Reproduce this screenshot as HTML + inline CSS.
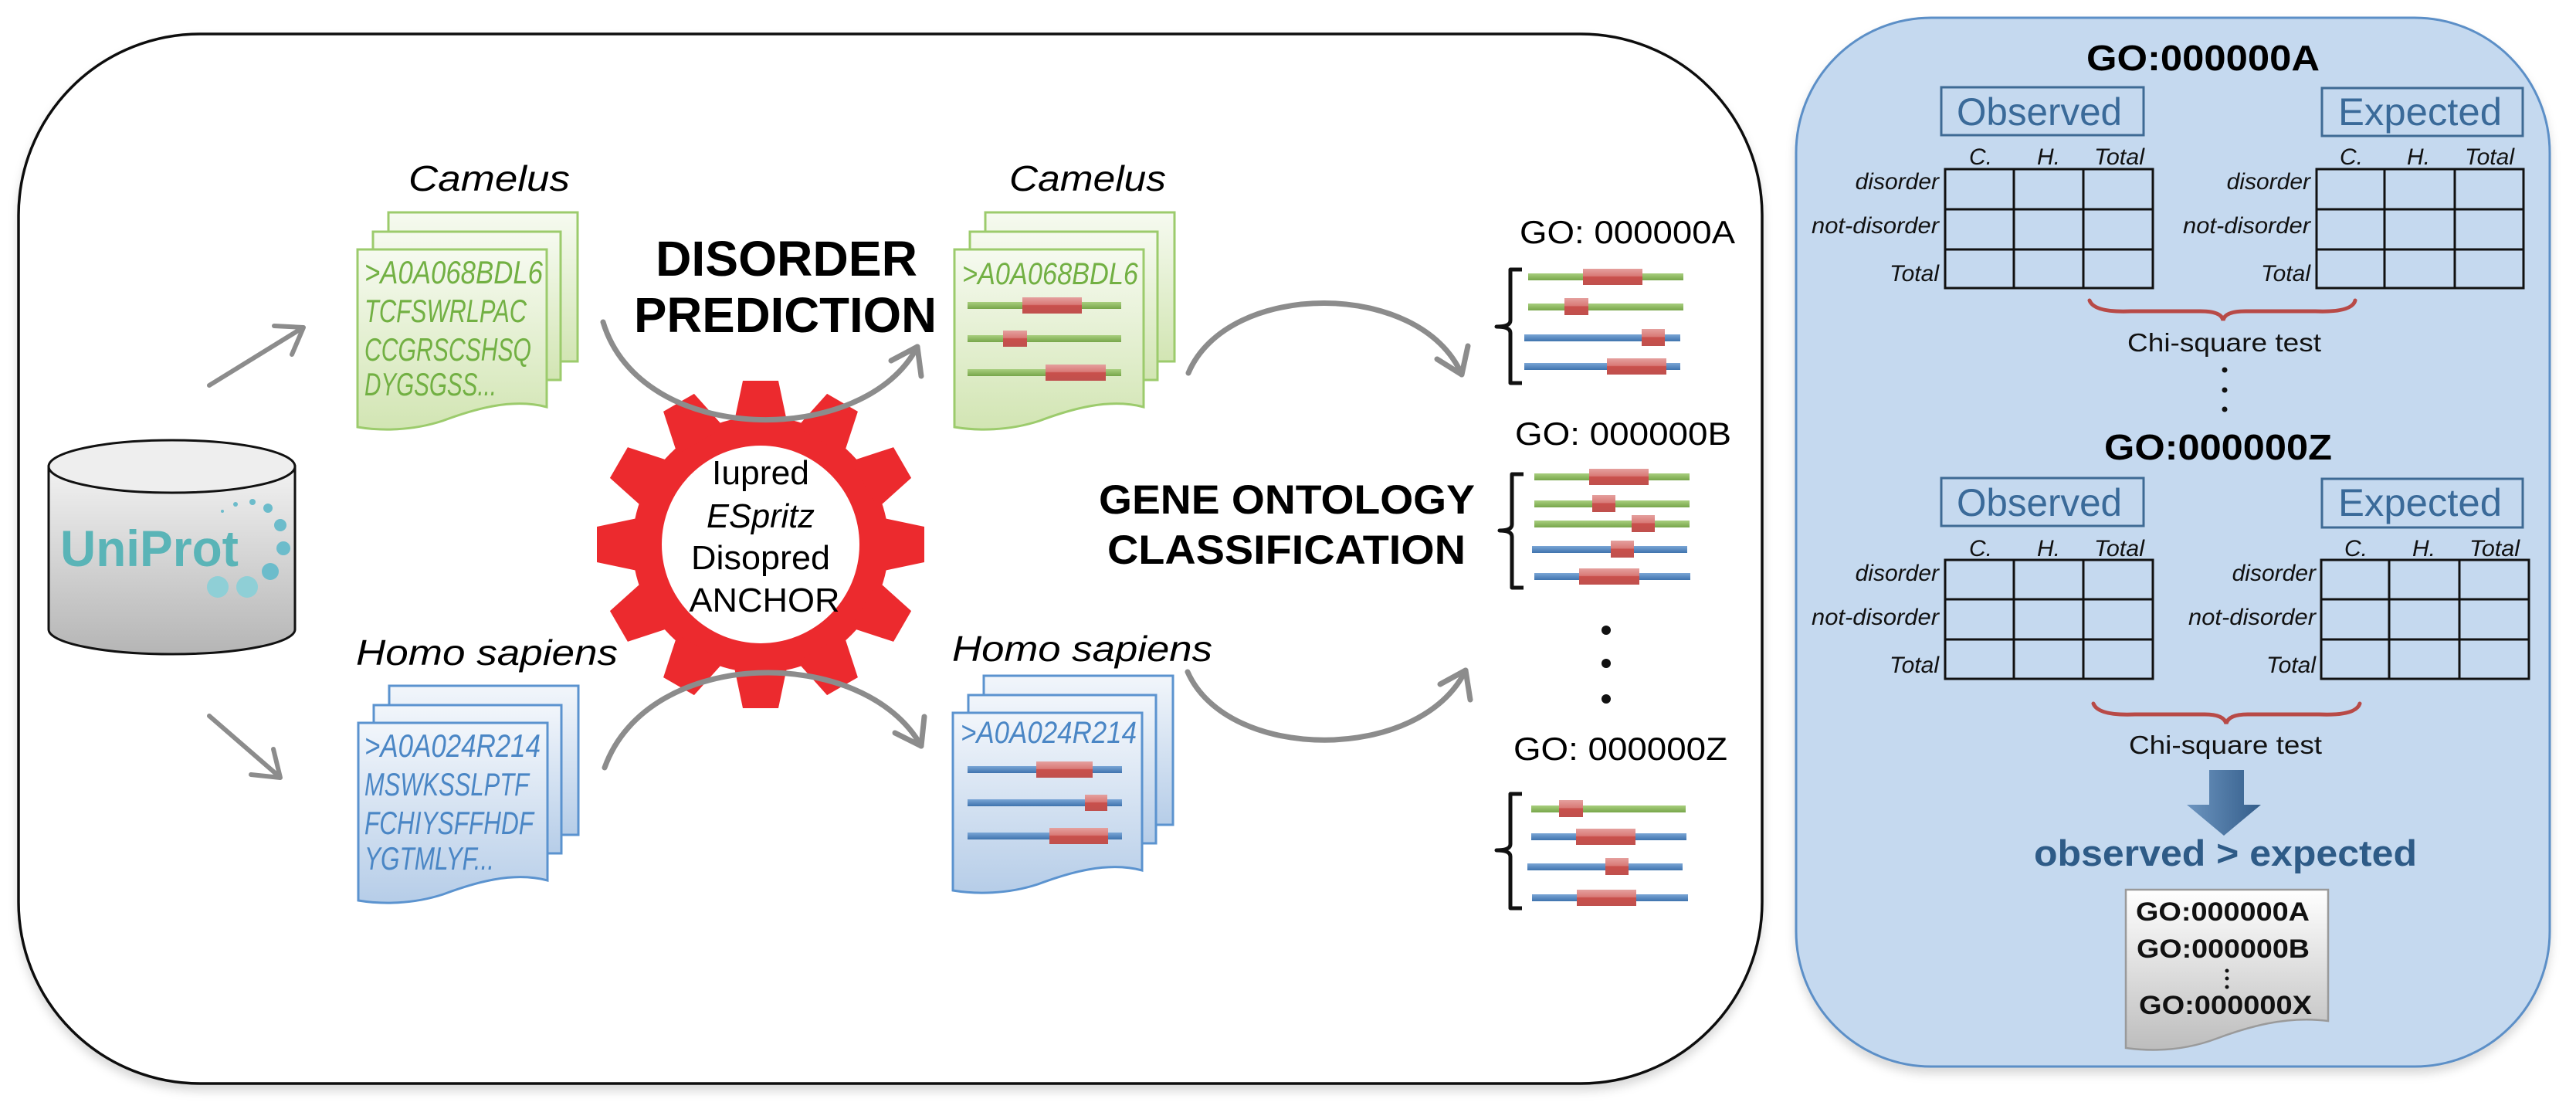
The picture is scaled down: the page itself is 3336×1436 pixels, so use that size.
<!DOCTYPE html>
<html><head><meta charset="utf-8"><style>
html,body{margin:0;padding:0;background:#fff;}
svg{display:block;}
text{font-family:"Liberation Sans",sans-serif;}
</style></head><body>
<svg width="3336" height="1436" viewBox="0 0 3336 1436" xmlns="http://www.w3.org/2000/svg">
<defs>
<linearGradient id="gG" x1="0" y1="0" x2="0" y2="1"><stop offset="0" stop-color="#f6faf0"/><stop offset="1" stop-color="#d2e5b3"/></linearGradient>
<linearGradient id="gB" x1="0" y1="0" x2="0" y2="1"><stop offset="0" stop-color="#f2f6fb"/><stop offset="1" stop-color="#b6cde8"/></linearGradient>
<linearGradient id="gCyl" x1="0" y1="0" x2="0" y2="1"><stop offset="0" stop-color="#f2f2f2"/><stop offset="1" stop-color="#b5b5b5"/></linearGradient>
<linearGradient id="gRed" x1="0" y1="0" x2="0" y2="1"><stop offset="0" stop-color="#e5a09e"/><stop offset="0.45" stop-color="#d97a77"/><stop offset="0.5" stop-color="#c9504c"/><stop offset="1" stop-color="#c0504d"/></linearGradient>
<linearGradient id="gLG" x1="0" y1="0" x2="0" y2="1"><stop offset="0" stop-color="#a9cf7f"/><stop offset="1" stop-color="#77a64a"/></linearGradient>
<linearGradient id="gLB" x1="0" y1="0" x2="0" y2="1"><stop offset="0" stop-color="#7aa6d6"/><stop offset="1" stop-color="#3f73ae"/></linearGradient>
<linearGradient id="gDoc" x1="0" y1="0" x2="0" y2="1"><stop offset="0" stop-color="#ffffff"/><stop offset="1" stop-color="#bdbdbd"/></linearGradient>
<linearGradient id="gArr" x1="0" y1="0" x2="1" y2="0"><stop offset="0" stop-color="#6d95c0"/><stop offset="1" stop-color="#335d8a"/></linearGradient>
<g id="stackG" stroke="#9ccb6c" stroke-width="3" fill="url(#gG)">
<rect x="40" y="0" width="245" height="193"/>
<rect x="20" y="25" width="243" height="192"/>
<path d="M0,48 H245 V252 C200,240 150,255 110,270 C70,283 30,283 0,278 Z"/>
</g>
<g id="stackB" stroke="#5b93cf" stroke-width="3" fill="url(#gB)">
<rect x="40" y="0" width="245" height="193"/>
<rect x="20" y="25" width="243" height="192"/>
<path d="M0,48 H245 V252 C200,240 150,255 110,270 C70,283 30,283 0,278 Z"/>
</g>
<filter id="sh" x="-5%" y="-5%" width="110%" height="110%"><feDropShadow dx="0" dy="8" stdDeviation="6" flood-color="#000" flood-opacity="0.15"/></filter>
</defs>

<!-- panels -->
<rect x="24" y="44" width="2258" height="1359" rx="235" ry="235" fill="#fff" stroke="#111" stroke-width="3.5" filter="url(#sh)"/>
<rect x="2326" y="23" width="976" height="1358" rx="175" ry="175" fill="#c5d9ef" stroke="#5b8fc7" stroke-width="3" filter="url(#sh)"/>

<!-- cylinder -->
<path d="M63,604 V815 A159.5,32 0 0 0 382,815 V604 Z" fill="url(#gCyl)" stroke="#111" stroke-width="3"/>
<ellipse cx="222.5" cy="604" rx="159.5" ry="34" fill="#eeeeee" stroke="#111" stroke-width="3"/>
<text x="78" y="733" font-size="66" font-weight="bold" fill="#5ab4b7" textLength="231" lengthAdjust="spacingAndGlyphs">UniProt</text>
<g fill="#6cbccb">
<circle cx="282" cy="760" r="14" fill="#8fcfd6"/><circle cx="320" cy="760" r="14" fill="#8fcfd6"/>
<circle cx="350" cy="740" r="11"/><circle cx="367" cy="710" r="9"/><circle cx="363" cy="680" r="8"/>
<circle cx="347" cy="658" r="6"/><circle cx="327" cy="650" r="4"/><circle cx="305" cy="653" r="3"/><circle cx="288" cy="662" r="2"/>
</g>

<!-- arrows from db -->
<g stroke="#8c8c8c" stroke-width="6" fill="none" stroke-linecap="round" stroke-linejoin="round">
<line x1="271" y1="499" x2="391" y2="425"/><polyline points="355,422 393,424 378,459"/>
<line x1="271" y1="927" x2="361" y2="1005"/><polyline points="354,970 363,1007 325,1003"/>
</g>

<!-- stacks -->
<text x="529" y="247" font-size="46" font-style="italic" textLength="209" lengthAdjust="spacingAndGlyphs">Camelus</text>
<use href="#stackG" x="463" y="275"/>
<g fill="#72b043" font-size="42" font-style="italic">
<text x="472" y="367" textLength="231" lengthAdjust="spacingAndGlyphs">&gt;A0A068BDL6</text>
<text x="472" y="417" textLength="210" lengthAdjust="spacingAndGlyphs">TCFSWRLPAC</text>
<text x="472" y="467" textLength="216" lengthAdjust="spacingAndGlyphs">CCGRSCSHSQ</text>
<text x="472" y="512" textLength="171" lengthAdjust="spacingAndGlyphs">DYGSGSS...</text>
</g>
<text x="461" y="861" font-size="46" font-style="italic" textLength="339" lengthAdjust="spacingAndGlyphs">Homo sapiens</text>
<use href="#stackB" x="464" y="888"/>
<g fill="#4a86c5" font-size="42" font-style="italic">
<text x="472" y="980" textLength="228" lengthAdjust="spacingAndGlyphs">&gt;A0A024R214</text>
<text x="472" y="1030" textLength="213" lengthAdjust="spacingAndGlyphs">MSWKSSLPTF</text>
<text x="472" y="1080" textLength="219" lengthAdjust="spacingAndGlyphs">FCHIYSFFHDF</text>
<text x="472" y="1126" textLength="168" lengthAdjust="spacingAndGlyphs">YGTMLYF...</text>
</g>

<!-- DISORDER PREDICTION -->
<text x="849" y="357" font-size="64" font-weight="bold" textLength="339" lengthAdjust="spacingAndGlyphs">DISORDER</text>
<text x="821" y="430" font-size="64" font-weight="bold" textLength="392" lengthAdjust="spacingAndGlyphs">PREDICTION</text>

<!-- gear -->
<g fill="#ec2a2e">
<circle cx="985" cy="705" r="166"/>
<g id="tooth"><polygon points="950,550 962,493 1008,493 1020,550"/></g>
<use href="#tooth" transform="rotate(30 985 705)"/><use href="#tooth" transform="rotate(60 985 705)"/>
<use href="#tooth" transform="rotate(90 985 705)"/><use href="#tooth" transform="rotate(120 985 705)"/>
<use href="#tooth" transform="rotate(150 985 705)"/><use href="#tooth" transform="rotate(180 985 705)"/>
<use href="#tooth" transform="rotate(210 985 705)"/><use href="#tooth" transform="rotate(240 985 705)"/>
<use href="#tooth" transform="rotate(270 985 705)"/><use href="#tooth" transform="rotate(300 985 705)"/>
<use href="#tooth" transform="rotate(330 985 705)"/>
</g>
<circle cx="985" cy="705" r="128" fill="#fff"/>
<g font-size="44" text-anchor="middle">
<text x="985" y="627" textLength="126" lengthAdjust="spacingAndGlyphs">Iupred</text>
<text x="985" y="683" font-style="italic" textLength="140" lengthAdjust="spacingAndGlyphs">ESpritz</text>
<text x="985" y="737" textLength="180" lengthAdjust="spacingAndGlyphs">Disopred</text>
<text x="990" y="792" textLength="195" lengthAdjust="spacingAndGlyphs">ANCHOR</text>
</g>

<!-- process arcs -->
<g stroke="#8c8c8c" stroke-width="7" fill="none" stroke-linecap="round" stroke-linejoin="round">
<path d="M781,417 C830,580 1120,580 1188,449"/><polyline points="1154,467 1188,449 1193,487"/>
<path d="M783,994 C840,835 1120,835 1193,966"/><polyline points="1197,928 1193,966 1159,949"/>
<path d="M1539,483 C1590,362 1840,362 1893,485"/><polyline points="1901,448 1893,485 1861,465"/>
<path d="M1538,870 C1590,988 1840,988 1898,868"/><polyline points="1865,886 1898,868 1904,906"/>
</g>

<!-- output stacks -->
<text x="1307" y="247" font-size="46" font-style="italic" textLength="203" lengthAdjust="spacingAndGlyphs">Camelus</text>
<use href="#stackG" x="1236" y="275"/>
<text x="1246" y="368" font-size="40" font-style="italic" fill="#72b043" textLength="228" lengthAdjust="spacingAndGlyphs">&gt;A0A068BDL6</text>
<g>
<rect x="1253" y="391" width="199" height="9" fill="url(#gLG)"/><rect x="1324" y="385" width="77" height="21" fill="url(#gRed)"/>
<rect x="1253" y="434" width="199" height="9" fill="url(#gLG)"/><rect x="1299" y="428" width="31" height="21" fill="url(#gRed)"/>
<rect x="1253" y="478" width="199" height="9" fill="url(#gLG)"/><rect x="1354" y="472" width="78" height="21" fill="url(#gRed)"/>
</g>
<text x="1233" y="856" font-size="46" font-style="italic" textLength="337" lengthAdjust="spacingAndGlyphs">Homo sapiens</text>
<use href="#stackB" x="1234" y="875"/>
<text x="1244" y="962" font-size="40" font-style="italic" fill="#4a86c5" textLength="228" lengthAdjust="spacingAndGlyphs">&gt;A0A024R214</text>
<g>
<rect x="1253" y="992" width="200" height="9" fill="url(#gLB)"/><rect x="1342" y="986" width="73" height="21" fill="url(#gRed)"/>
<rect x="1253" y="1035" width="200" height="9" fill="url(#gLB)"/><rect x="1405" y="1029" width="29" height="21" fill="url(#gRed)"/>
<rect x="1253" y="1078" width="200" height="9" fill="url(#gLB)"/><rect x="1359" y="1072" width="76" height="21" fill="url(#gRed)"/>
</g>

<!-- GO classification -->
<text x="1423" y="665" font-size="53" font-weight="bold" textLength="487" lengthAdjust="spacingAndGlyphs">GENE ONTOLOGY</text>
<text x="1434" y="730" font-size="53" font-weight="bold" textLength="464" lengthAdjust="spacingAndGlyphs">CLASSIFICATION</text>

<g font-size="42">
<text x="1968" y="315" textLength="279" lengthAdjust="spacingAndGlyphs">GO: 000000A</text>
<text x="1962" y="576" textLength="280" lengthAdjust="spacingAndGlyphs">GO: 000000B</text>
<text x="1960" y="984" textLength="277" lengthAdjust="spacingAndGlyphs">GO: 000000Z</text>
</g>
<g stroke="#111" stroke-width="5" fill="none" stroke-linejoin="round">
<path d="M1971,349 H1956 V415 Q1956,423 1938,423 Q1956,423 1956,431 V496 H1971"/>
<path d="M1973,614 H1958 V679 Q1958,687 1942,687 Q1958,687 1958,695 V761 H1973"/>
<path d="M1971,1028 H1956 V1093 Q1956,1101 1938,1101 Q1956,1101 1956,1109 V1176 H1971"/>
</g>
<g fill="#111"><circle cx="2080" cy="816" r="6"/><circle cx="2080" cy="859" r="6"/><circle cx="2080" cy="905" r="6"/></g>
<g>
<!-- A -->
<rect x="1979" y="354" width="201" height="9" fill="url(#gLG)"/><rect x="2050" y="348" width="77" height="21" fill="url(#gRed)"/>
<rect x="1979" y="393" width="201" height="9" fill="url(#gLG)"/><rect x="2026" y="386" width="31" height="22" fill="url(#gRed)"/>
<rect x="1974" y="433" width="202" height="9" fill="url(#gLB)"/><rect x="2126" y="426" width="30" height="22" fill="url(#gRed)"/>
<rect x="1974" y="470" width="202" height="9" fill="url(#gLB)"/><rect x="2081" y="464" width="77" height="21" fill="url(#gRed)"/>
<!-- B -->
<rect x="1987" y="613" width="201" height="9" fill="url(#gLG)"/><rect x="2058" y="607" width="77" height="21" fill="url(#gRed)"/>
<rect x="1987" y="648" width="201" height="9" fill="url(#gLG)"/><rect x="2062" y="641" width="30" height="22" fill="url(#gRed)"/>
<rect x="1987" y="674" width="201" height="9" fill="url(#gLG)"/><rect x="2113" y="667" width="30" height="22" fill="url(#gRed)"/>
<rect x="1984" y="707" width="201" height="9" fill="url(#gLB)"/><rect x="2086" y="700" width="30" height="22" fill="url(#gRed)"/>
<rect x="1987" y="742" width="202" height="9" fill="url(#gLB)"/><rect x="2045" y="736" width="78" height="21" fill="url(#gRed)"/>
<!-- Z -->
<rect x="1983" y="1043" width="200" height="9" fill="url(#gLG)"/><rect x="2019" y="1036" width="31" height="22" fill="url(#gRed)"/>
<rect x="1983" y="1079" width="201" height="9" fill="url(#gLB)"/><rect x="2041" y="1073" width="77" height="21" fill="url(#gRed)"/>
<rect x="1978" y="1118" width="201" height="9" fill="url(#gLB)"/><rect x="2079" y="1111" width="30" height="22" fill="url(#gRed)"/>
<rect x="1984" y="1158" width="202" height="9" fill="url(#gLB)"/><rect x="2042" y="1152" width="77" height="21" fill="url(#gRed)"/>
</g>

<!-- right panel -->
<text x="2702" y="91" font-size="46" font-weight="bold" textLength="302" lengthAdjust="spacingAndGlyphs">GO:000000A</text>
<text x="2725" y="595" font-size="46" font-weight="bold" textLength="295" lengthAdjust="spacingAndGlyphs">GO:000000Z</text>

<g fill="none" stroke="#3e6a94" stroke-width="3">
<rect x="2514" y="113" width="262" height="62"/><rect x="3007" y="114" width="260" height="62"/>
<rect x="2514" y="619" width="262" height="62"/><rect x="3007" y="620" width="260" height="63"/>
</g>
<g fill="#3a6a99" font-size="50">
<text x="2534" y="162" textLength="214" lengthAdjust="spacingAndGlyphs">Observed</text>
<text x="3028" y="162" textLength="212" lengthAdjust="spacingAndGlyphs">Expected</text>
<text x="2534" y="668" textLength="214" lengthAdjust="spacingAndGlyphs">Observed</text>
<text x="3028" y="668" textLength="212" lengthAdjust="spacingAndGlyphs">Expected</text>
</g>

<!-- tables -->
<g fill="none" stroke="#111" stroke-width="3">
<rect x="2519" y="219" width="269" height="154"/><line x1="2519" y1="271" x2="2788" y2="271"/><line x1="2519" y1="323" x2="2788" y2="323"/><line x1="2608" y1="219" x2="2608" y2="373"/><line x1="2698" y1="219" x2="2698" y2="373"/>
<rect x="3000" y="219" width="268" height="154"/><line x1="3000" y1="271" x2="3268" y2="271"/><line x1="3000" y1="323" x2="3268" y2="323"/><line x1="3088" y1="219" x2="3088" y2="373"/><line x1="3179" y1="219" x2="3179" y2="373"/>
<rect x="2519" y="725" width="269" height="154"/><line x1="2519" y1="776" x2="2788" y2="776"/><line x1="2519" y1="828" x2="2788" y2="828"/><line x1="2608" y1="725" x2="2608" y2="879"/><line x1="2698" y1="725" x2="2698" y2="879"/>
<rect x="3006" y="725" width="269" height="154"/><line x1="3006" y1="776" x2="3275" y2="776"/><line x1="3006" y1="828" x2="3275" y2="828"/><line x1="3094" y1="725" x2="3094" y2="879"/><line x1="3185" y1="725" x2="3185" y2="879"/>
</g>
<g font-size="30" font-style="italic" fill="#111">
<text x="2550" y="213">C.</text><text x="2638" y="213">H.</text><text x="2712" y="213" textLength="65" lengthAdjust="spacingAndGlyphs">Total</text>
<text x="3030" y="213">C.</text><text x="3117" y="213">H.</text><text x="3192" y="213" textLength="64" lengthAdjust="spacingAndGlyphs">Total</text>
<text x="2550" y="720">C.</text><text x="2638" y="720">H.</text><text x="2712" y="720" textLength="65" lengthAdjust="spacingAndGlyphs">Total</text>
<text x="3036" y="720">C.</text><text x="3124" y="720">H.</text><text x="3198" y="720" textLength="65" lengthAdjust="spacingAndGlyphs">Total</text>
</g>
<g font-size="30" font-style="italic" fill="#111" text-anchor="end">
<text x="2511" y="245">disorder</text><text x="2511" y="302" textLength="165" lengthAdjust="spacingAndGlyphs">not-disorder</text><text x="2511" y="364">Total</text>
<text x="2992" y="245">disorder</text><text x="2992" y="302" textLength="165" lengthAdjust="spacingAndGlyphs">not-disorder</text><text x="2992" y="364">Total</text>
<text x="2511" y="752">disorder</text><text x="2511" y="809" textLength="165" lengthAdjust="spacingAndGlyphs">not-disorder</text><text x="2511" y="871">Total</text>
<text x="2999" y="752">disorder</text><text x="2999" y="809" textLength="165" lengthAdjust="spacingAndGlyphs">not-disorder</text><text x="2999" y="871">Total</text>
</g>

<!-- braces -->
<g fill="none" stroke="#b84a47" stroke-width="5" stroke-linecap="round">
<path d="M2706,389 Q2712,405 2760,403 L2850,403 Q2877,403 2879,415 Q2881,403 2908,403 L2998,403 Q3046,405 3050,389"/>
<path d="M2711,911 Q2717,927 2765,925 L2855,925 Q2880,925 2883,937 Q2886,925 2911,925 L3003,925 Q3051,927 3056,911"/>
</g>
<g font-size="33" fill="#111">
<text x="2755" y="455" textLength="251" lengthAdjust="spacingAndGlyphs">Chi-square test</text>
<text x="2757" y="976" textLength="250" lengthAdjust="spacingAndGlyphs">Chi-square test</text>
</g>
<g fill="#111"><circle cx="2881" cy="479" r="3.5"/><circle cx="2881" cy="505" r="3.5"/><circle cx="2881" cy="530" r="3.5"/></g>

<!-- blue arrow -->
<polygon points="2861,997 2906,997 2906,1042 2928,1042 2880,1082 2832,1042 2861,1042" fill="url(#gArr)"/>
<text x="2634" y="1121" font-size="47" font-weight="bold" fill="#2e5b87" textLength="496" lengthAdjust="spacingAndGlyphs">observed &gt; expected</text>

<!-- result doc -->
<path d="M2753,1152 H3015 V1322 C2960,1315 2910,1330 2870,1345 C2830,1360 2790,1362 2753,1357 Z" fill="url(#gDoc)" stroke="#9a9a9a" stroke-width="2.5"/>
<g font-size="34" font-weight="bold" fill="#111">
<text x="2766" y="1192" textLength="225" lengthAdjust="spacingAndGlyphs">GO:000000A</text>
<text x="2767" y="1240" textLength="224" lengthAdjust="spacingAndGlyphs">GO:000000B</text>
<text x="2770" y="1313" textLength="224" lengthAdjust="spacingAndGlyphs">GO:000000X</text>
</g>
<g fill="#111"><circle cx="2884" cy="1257" r="2.5"/><circle cx="2884" cy="1267" r="2.5"/><circle cx="2884" cy="1278" r="2.5"/></g>
</svg>
</body></html>
